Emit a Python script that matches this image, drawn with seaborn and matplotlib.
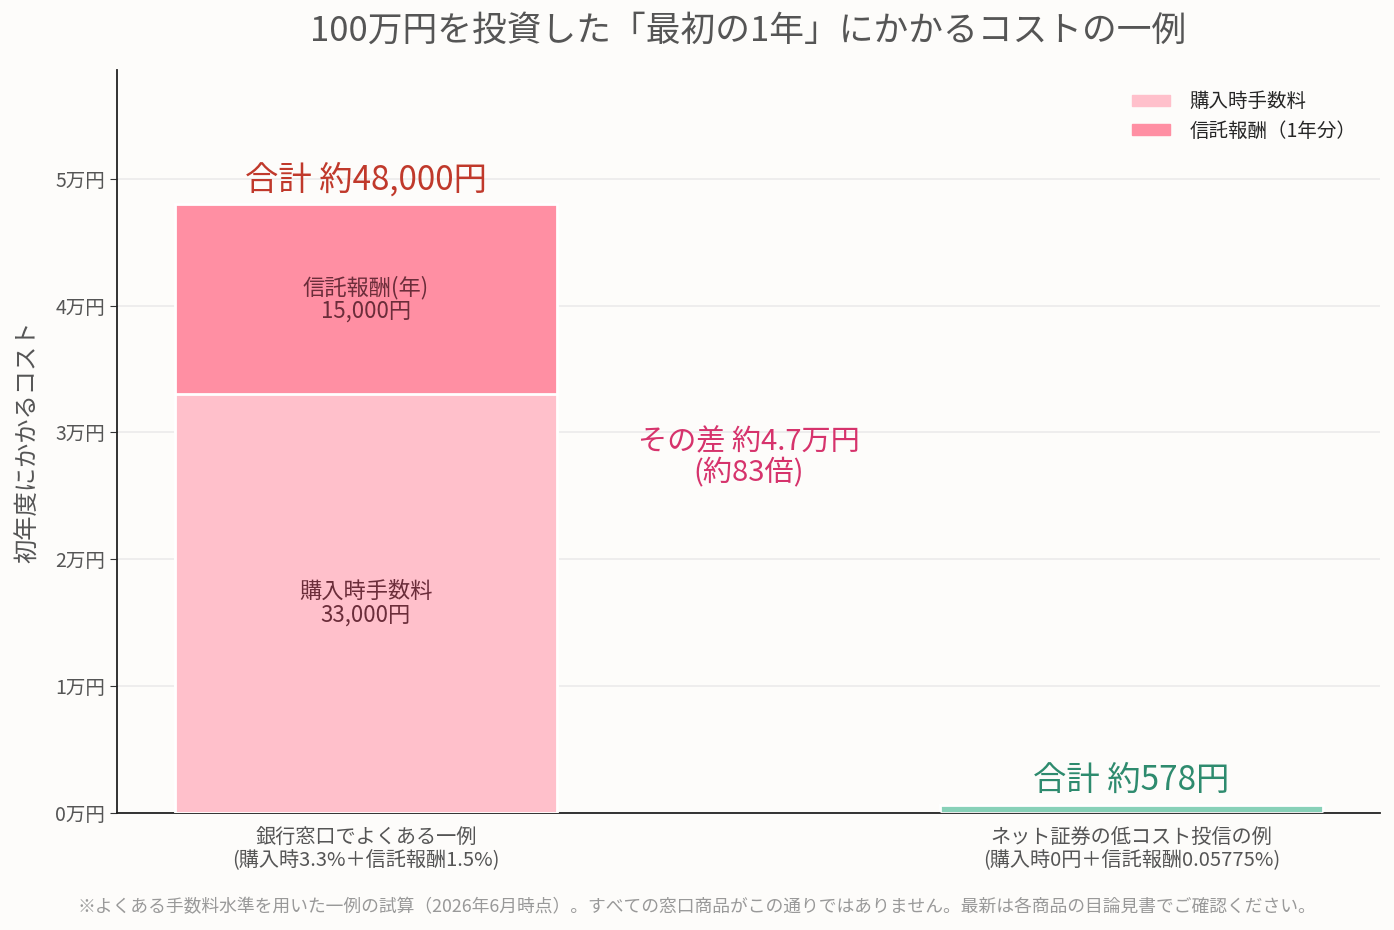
import numpy as np
import pandas as pd
import seaborn as sns
from matplotlib import pyplot as plt
from matplotlib.patches import Patch

# data
categories = ["銀行窓口でよくある一例\n(購入時3.3%＋信託報酬1.5%)",
              "ネット証券の低コスト投信の例\n(購入時0円＋信託報酬0.05775%)"]
purchase_fee = [33000, 0]
trust_fee = [15000, 578]
totals = [p + t for p, t in zip(purchase_fee, trust_fee)]
yticks = [0, 10000, 20000, 30000, 40000, 50000]
ytick_labels = ["0万円", "1万円", "2万円", "3万円", "4万円", "5万円"]

c_purchase = "#ffc0cb"
c_trust = "#ff8fa3"
c_net = "#88d1b8"
bg = "#fdfcfa"

sns.set_style("white")
plt.rcParams['font.family'] = ['Noto Sans CJK JP', 'DejaVu Sans']

df = pd.DataFrame({"cat": categories, "total": totals, "purchase": purchase_fee})

fig, ax = plt.subplots(figsize=(13.94, 9.3), dpi=100)
fig.patch.set_facecolor(bg)
ax.set_facecolor(bg)

# total height first (top segment colour), then lower segment over it
sns.barplot(data=df, x="cat", y="total", hue="cat", palette=[c_trust, c_net],
            width=0.5, ax=ax, legend=False, saturation=1, edgecolor="white",
            linewidth=2, zorder=2)
sns.barplot(data=df, x="cat", y="purchase", hue="cat", palette=[c_purchase, c_purchase],
            width=0.5, ax=ax, legend=False, saturation=1, edgecolor="white",
            linewidth=2, zorder=3)

ax.set_xlim(-0.325, 1.325)
ax.set_ylim(0, 58600)
ax.set_yticks(yticks)
ax.set_yticklabels(ytick_labels, fontsize=14, color="#555555")
ax.tick_params(axis="x", labelsize=14.5, labelcolor="#555555", length=5,
               color="#333333", pad=6)
ax.tick_params(axis="y", length=5, color="#333333", left=True)
for lbl in ax.get_xticklabels():
    lbl.set_linespacing(1.05)
ax.grid(axis="y", color="#ebebeb", linewidth=1.2, zorder=0)
ax.set_axisbelow(True)
ax.set_xlabel("")
ax.set_ylabel("初年度にかかるコスト", fontsize=17.5, color="#555555", labelpad=10)
sns.despine(ax=ax)
ax.spines["left"].set_color("#222222")
ax.spines["bottom"].set_color("#222222")
ax.spines["left"].set_linewidth(1.3)
ax.spines["bottom"].set_linewidth(1.3)

# labels
ax.text(0, totals[0] + 1900, "合計 約48,000円", ha="center", va="center",
        fontsize=24, color="#c0392b")
ax.text(0, purchase_fee[0] + trust_fee[0] / 2, "信託報酬(年)\n15,000円", ha="center",
        va="center", fontsize=16, color="#6b2d3a", linespacing=1.05)
ax.text(0, purchase_fee[0] / 2, "購入時手数料\n33,000円", ha="center",
        va="center", fontsize=16, color="#6b2d3a", linespacing=1.05)
ax.text(1, totals[1] + 1950, "合計 約578円", ha="center", va="center",
        fontsize=24, color="#2e8b6e")
ax.text(0.5, 28000, "その差 約4.7万円\n(約83倍)", ha="center", va="center",
        fontsize=21, color="#d6336c", linespacing=1.05)

handles = [Patch(color=c_purchase, label="購入時手数料"),
           Patch(color=c_trust, label="信託報酬（1年分）")]
ax.legend(handles=handles, loc="upper right", frameon=False, fontsize=14,
          handlelength=1.95, handleheight=0.5, labelspacing=0.45,
          handletextpad=1.0, bbox_to_anchor=(0.995, 0.995))

ax.set_title("100万円を投資した「最初の1年」にかかるコストの一例", fontsize=25,
             color="#555555", pad=21)
fig.text(0.5, 0.025, "※よくある手数料水準を用いた一例の試算（2026年6月時点）。すべての窓口商品がこの通りではありません。最新は各商品の目論見書でご確認ください。",
         ha="center", va="center", fontsize=12.8, color="#999999")

fig.subplots_adjust(left=0.084, right=0.99, top=0.925, bottom=0.126)
fig.savefig("out.png", dpi=100, facecolor=bg)
